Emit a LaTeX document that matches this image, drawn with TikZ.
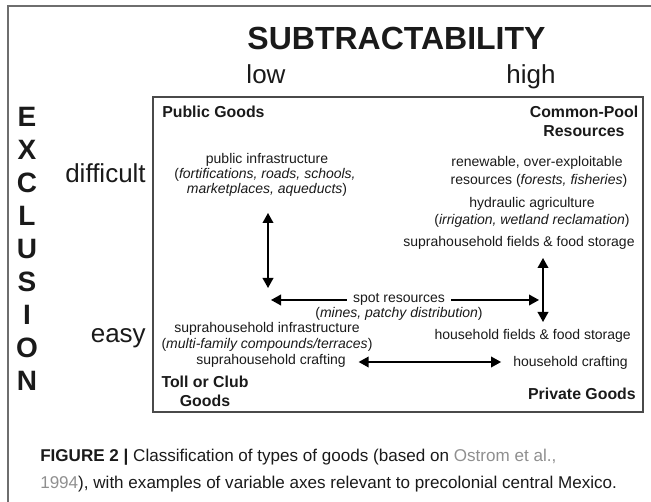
\documentclass[tikz,border=0pt]{standalone}
\usepackage{fontspec}
\setmainfont{Liberation Sans}
\usepackage{tikz}
\usetikzlibrary{arrows.meta, positioning}

\definecolor{framegray}{HTML}{6E6E6E}
\definecolor{boxgray}{HTML}{4A4A4A}
\definecolor{refgray}{HTML}{8F8F8F}
\definecolor{inkgray}{HTML}{1A1A1A}

\tikzset{
    txt/.style={font=\fontsize{10.5}{12}\selectfont, text=inkgray, inner sep=0pt, anchor=base},
    corner/.style={font=\bfseries\fontsize{11.9}{14}\selectfont, text=inkgray, inner sep=0pt, anchor=base},
    axislbl/.style={font=\fontsize{19.5}{22}\selectfont, text=inkgray, inner sep=0pt, anchor=base},
    exletter/.style={font=\bfseries\fontsize{21}{24}\selectfont, text=inkgray, inner sep=0pt, anchor=base},
    twoway/.style={line width=1.1pt, {Triangle[length=7.5pt,width=8pt]}-{Triangle[length=7.5pt,width=8pt]}},
    oneway/.style={line width=1.1pt, -{Triangle[length=7.5pt,width=8pt]}},
}

\begin{document}
\begin{tikzpicture}[x=0.75pt, y=-0.75pt]
    \useasboundingbox (0,0) rectangle (651,502);

    % outer frame and matrix box
    \draw[framegray, line width=0.8pt] (651,6) -- (8,6) -- (8,502);
    \draw[boxgray, line width=0.8pt] (153,97) rectangle (643,412);

    % axes
    \node[font=\bfseries\fontsize{24}{28}\selectfont, text=inkgray, inner sep=0pt, anchor=base] (subtr) at (396.5,50) {SUBTRACTABILITY};
    \node[axislbl] (low) at (266,84) {low};
    \node[axislbl] (high) at (531,84) {high};
    \foreach \ch [count=\i] in {E,X,C,L,U,S,I,O,N}
        \node[exletter] (ex\i) at (27,{94+33*\i}) {\ch};
    \node[axislbl, anchor=base east] (difficult) at (146,183) {difficult};
    \node[axislbl, anchor=base east] (easy) at (146,343) {easy};

    % corner labels
    \node[corner, anchor=base west] (pubg) at (162,118) {Public Goods};
    \node[corner] (cpr1) at (584,118) {Common-Pool};
    \node[corner] (cpr2) at (584,137) {Resources};
    \node[corner] (toll1) at (205,388) {Toll or Club};
    \node[corner] (toll2) at (205,407) {Goods};
    \node[corner, anchor=base east] (privg) at (636,400) {Private Goods};

    % public goods
    \node[txt] (pub1) at (267,164) {public infrastructure};
    \node[txt] (pub2) at (265,179) {(\textit{fortifications, roads, schools,}};
    \node[txt] (pub3) at (267,194) {\textit{marketplaces, aqueducts})};

    % common-pool resources
    \node[txt] (cp1) at (537,167) {renewable, over-exploitable};
    \node[txt] (cp2) at (539,185) {resources (\textit{forests, fisheries})};
    \node[txt] (hyd1) at (532,208) {hydraulic agriculture};
    \node[txt] (hyd2) at (532,225) {(\textit{irrigation, wetland reclamation})};
    \node[txt] (supf) at (519,247) {suprahousehold fields \& food storage};

    % middle
    \node[txt] (spot1) at (399,303) {spot resources};
    \node[txt] (spot2) at (399,318) {(\textit{mines, patchy distribution})};

    % toll goods
    \node[txt] (supi1) at (267,333) {suprahousehold infrastructure};
    \node[txt] (supi2) at (267,349) {(\textit{multi-family compounds/terraces})};
    \node[txt] (supc) at (271,365) {suprahousehold crafting};

    % private goods
    \node[txt, anchor=base east] (hhf) at (631,340) {household fields \& food storage};
    \node[txt, anchor=base east] (hhc) at (628,367) {household crafting};

    % arrow ends
    \coordinate (pubT) at (268,213);
    \coordinate (pubB) at (268,288);
    \coordinate (cpT) at (543,258);
    \coordinate (cpB) at (543,322);
    \coordinate (spotL) at (271,300);
    \coordinate (spotR) at (539,300);

    \draw[twoway] (pubT) -- (pubB);
    \draw[twoway] (cpT) -- (cpB);
    \draw[oneway] (spot1.west |- spotL) ++(-6,0) -- (spotL);
    \draw[oneway] (spot1.east |- spotR) ++(6,0) -- (spotR);
    \draw[twoway, shorten <=9.5pt, shorten >=9pt] (supc.east |- 0,362) -- (hhc.west |- 0,362);

    % caption
    \node[font=\fontsize{12.8}{20}\selectfont, text=inkgray, inner sep=0pt, anchor=base west] (cap1) at (40,462)
        {\textbf{FIGURE 2 |} Classification of types of goods (based on \textcolor{refgray}{Ostrom et al.,}};
    \node[font=\fontsize{12.8}{20}\selectfont, text=inkgray, inner sep=0pt, anchor=base west] (cap2) at (40,489)
        {\textcolor{refgray}{1994}), with examples of variable axes relevant to precolonial central Mexico.};
\end{tikzpicture}
\end{document}
